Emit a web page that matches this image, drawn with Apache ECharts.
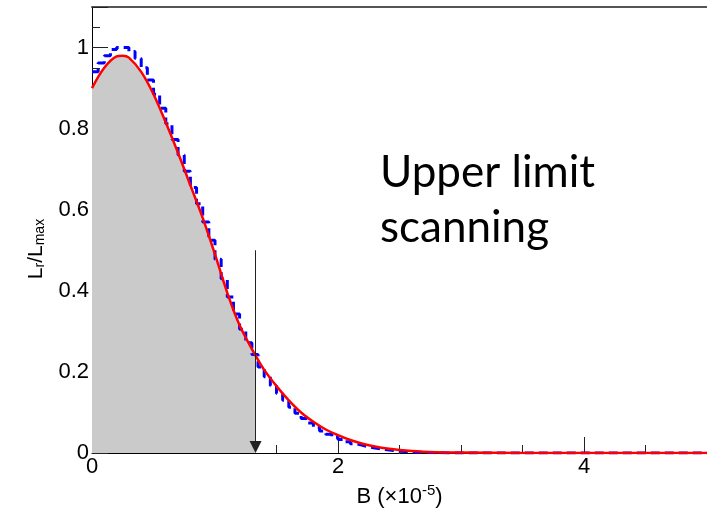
<!DOCTYPE html>
<html>
<head>
<meta charset="utf-8">
<script src="https://cdn.jsdelivr.net/npm/echarts@6/dist/echarts.min.js"></script>
<style>html,body{margin:0;padding:0;background:#fff}#main{width:707px;height:509px}</style>
</head>
<body>
<div id="main"></div>
<script>
// fit curve (red)
var fitX = [0, 0.1, 0.2, 0.25, 0.3, 0.4, 0.5, 0.6, 0.7, 0.8, 0.9, 1.0, 1.1, 1.2, 1.33, 1.4, 1.5, 1.6, 1.7, 1.8, 1.9, 2.0, 2.1, 2.2, 2.3, 2.4, 2.6, 2.8, 3.0, 3.5, 4.0, 5.0];
var fitY = [0.90, 0.95, 0.978, 0.98, 0.975, 0.94, 0.885, 0.815, 0.74, 0.66, 0.58, 0.49, 0.395, 0.315, 0.24, 0.205, 0.165, 0.13, 0.10, 0.077, 0.058, 0.044, 0.032, 0.023, 0.016, 0.011, 0.005, 0.002, 0.001, 0.0002, 0, 0];

// scan histogram (blue), bins of width 0.05 starting at 0
var binWidth = 0.05;
var scanY = [0.94, 0.962, 0.98, 0.995, 1.0, 1.0, 0.99, 0.973, 0.95, 0.92,
             0.885, 0.85, 0.812, 0.773, 0.735, 0.695, 0.655, 0.615, 0.57, 0.525,
             0.478, 0.43, 0.385, 0.343, 0.305, 0.272, 0.243, 0.212, 0.188, 0.166,
             0.147, 0.13, 0.113, 0.098, 0.085, 0.074, 0.063, 0.054, 0.046, 0.039,
             0.033, 0.028, 0.023, 0.019, 0.015, 0.012, 0.01, 0.008, 0.006, 0.0045,
             0.0035, 0.0025, 0.002, 0.0015, 0.001, 0.0007, 0.0005, 0.0003, 0.0002, 0.0001];

var upperLimit = 1.33;   // arrow position
var arrowTop = 0.5;

var myChart = echarts.init(document.getElementById('main'));

var fitData = fitX.map(function (x, i) { return [x, fitY[i]]; });
var fillData = fitData.filter(function (p) { return p[0] <= upperLimit; });
var scanData = scanY.map(function (y, i) { return [i * binWidth, y]; });
scanData.push([scanY.length * binWidth, 0], [5, 0]);

var font = 'Liberation Sans';

option = {
    animation: false,
    grid: { left: 92, right: 0, top: 7, bottom: 56, outerBoundsMode: 'none' },
    xAxis: [{
        type: 'value', min: 0, max: 5, interval: 2,
        name: '{a|B (×10}{p|-5}{a|)}',
        nameLocation: 'middle', nameGap: 30,
        nameTextStyle: {
            fontFamily: font, fontSize: 22, color: '#000',
            rich: {
                a: { fontFamily: font, fontSize: 22, color: '#000' },
                p: { fontFamily: font, fontSize: 15, color: '#000', verticalAlign: 'top', padding: [0, 0, 12, 0] }
            }
        },
        splitLine: { show: false },
        axisLine: { lineStyle: { color: '#000', width: 1 } },
        axisTick: { inside: true, length: 16, lineStyle: { color: '#222' } },
        minorTick: { show: true, splitNumber: 4, length: 8, lineStyle: { color: '#222' } },
        axisLabel: { fontFamily: font, fontSize: 22, color: '#000', margin: 3, showMaxLabel: false }
    }, {
        type: 'value', position: 'top', min: 0, max: 5,
        axisLine: { show: true, lineStyle: { color: '#555', width: 2 } },
        axisTick: { show: false }, axisLabel: { show: false }, splitLine: { show: false }
    }],
    yAxis: {
        type: 'value', min: 0, max: 1.1, interval: 0.2,
        name: '{a|L}{s|r}{a|/L}{s|max}',
        nameLocation: 'middle', nameGap: 45,
        nameTextStyle: {
            fontFamily: font, fontSize: 21, color: '#000',
            padding: [0, 38, 0, 0],
            rich: {
                a: { fontFamily: font, fontSize: 21, color: '#000' },
                s: { fontFamily: font, fontSize: 14, color: '#000', verticalAlign: 'bottom', padding: [8, 0, 0, 0] }
            }
        },
        splitLine: { show: false },
        axisLine: { show: true, lineStyle: { color: '#000', width: 1 } },
        axisTick: { inside: true, length: 16, lineStyle: { color: '#222' } },
        minorTick: { show: true, splitNumber: 4, length: 8, lineStyle: { color: '#222' } },
        axisLabel: { fontFamily: font, fontSize: 22, color: '#000', margin: 3, showMaxLabel: false }
    },
    graphic: [{
        type: 'text', left: 380, top: 145,
        style: { text: 'Upper limit\nscanning', font: '44px Lato', fill: '#000', lineHeight: 55 }
    }],
    series: [{
        name: 'fill', type: 'line', data: fillData, smooth: 0.35,
        showSymbol: false, lineStyle: { width: 0 },
        areaStyle: { color: '#cacaca', opacity: 1 }, z: 1
    }, {
        name: 'scan', type: 'line', data: scanData, step: 'end', showSymbol: false,
        lineStyle: { color: '#0000ff', width: 3, type: [9, 5] }, z: 2
    }, {
        name: 'fit', type: 'line', data: fitData, smooth: 0.35, showSymbol: false,
        lineStyle: { color: '#ff0000', width: 2.5 }, z: 3,
        markLine: {
            silent: true, animation: false,
            label: { show: false },
            lineStyle: { color: '#222', width: 1, type: 'solid' },
            data: [[
                { coord: [upperLimit, arrowTop], symbol: 'none' },
                { coord: [upperLimit, 0.015], symbol: 'triangle', symbolSize: [12, 12] }
            ]]
        }
    }]
};

myChart.setOption(option);
</script>
</body>
</html>
